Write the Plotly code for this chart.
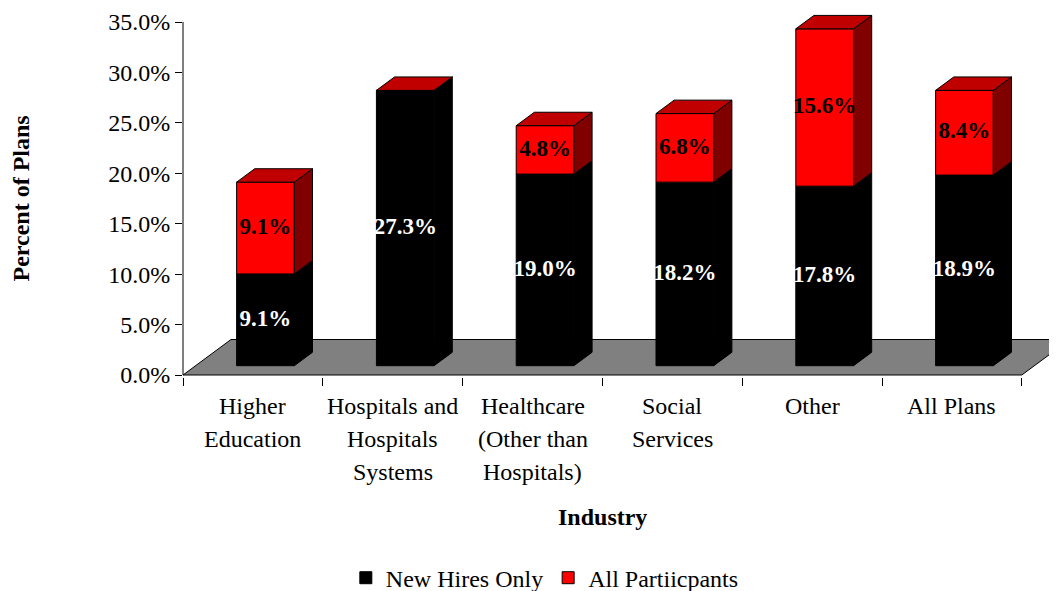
import plotly.graph_objects as go

# ---------------- data ----------------
categories = [
    "Higher<br>Education",
    "Hospitals and<br>Hospitals<br>Systems",
    "Healthcare<br>(Other than<br>Hospitals)",
    "Social<br>Services",
    "Other",
    "All Plans",
]
new_hires = [9.1, 27.3, 19.0, 18.2, 17.8, 18.9]
all_participants = [9.1, 0.0, 4.8, 6.8, 15.6, 8.4]
series_names = ["New Hires Only", "All Partiicpants"]
y_ticks = [0, 5, 10, 15, 20, 25, 30, 35]
y_tick_labels = [f"{v:.1f}%" for v in y_ticks]

# ---------------- styling / geometry ----------------
FONT = "Liberation Serif"
PAGE_OFFSET = 8                      # default body margin of the html page
W, H = 1057 - PAGE_OFFSET, 591 - PAGE_OFFSET
ML, MR, MT, MB = 175, 0, 0, 214
X_MIN = -0.5
PX_X = 139.8
X_MAX = X_MIN + (W - ML - MR) / PX_X
Y_MIN, Y_MAX = -0.198, 36.388
PX_Y = (H - MT - MB) / (Y_MAX - Y_MIN)
DEPTH_X = 48 / PX_X        # full floor depth, in x data units
DEPTH_Y = 35.5 / PX_Y      # full floor depth, in y data units
F0, F1 = 0.262, 0.64       # bar front / back depth fraction
BAR_W = 0.413

front_colors = ["#000000", "#FF0000"]
top_colors = ["#000000", "#C00000"]
side_colors = ["#000000", "#800000"]
text_colors = ["#FFFFFF", "#000000"]

series = [new_hires, all_participants]
n = len(categories)
xs = list(range(n))

fig = go.Figure()

# front faces (real bars)
bases = [[F0 * DEPTH_Y] * n]
bases.append([F0 * DEPTH_Y + v for v in new_hires])
x_front = [i + F0 * DEPTH_X for i in xs]
for s, vals in enumerate(series):
    fig.add_trace(go.Bar(
        x=x_front, y=vals, base=bases[s], width=BAR_W,
        name=series_names[s],
        marker=dict(color=front_colors[s], line=dict(color="#000000", width=1)),
        textposition="none", hoverinfo="skip",
    ))

ddx = (F1 - F0) * DEPTH_X
ddy = (F1 - F0) * DEPTH_Y

# side faces
for s, vals in enumerate(series):
    px, py = [], []
    for i in xs:
        xr = x_front[i] + BAR_W / 2
        yb = bases[s][i]
        yt = yb + vals[i]
        px += [xr, xr + ddx, xr + ddx, xr, xr, None]
        py += [yb, yb + ddy, yt + ddy, yt, yb, None]
    fig.add_trace(go.Scatter(
        x=px, y=py, mode="lines", fill="toself", fillcolor=side_colors[s],
        line=dict(color="#000000", width=1), showlegend=False, hoverinfo="skip"))

# top faces of the topmost segment
s = len(series) - 1
px, py = [], []
for i in xs:
    xl = x_front[i] - BAR_W / 2
    xr = x_front[i] + BAR_W / 2
    yt = bases[s][i] + series[s][i]
    px += [xl, xr, xr + ddx, xl + ddx, xl, None]
    py += [yt, yt, yt + ddy, yt + ddy, yt, None]
fig.add_trace(go.Scatter(
    x=px, y=py, mode="lines", fill="toself", fillcolor=top_colors[s],
    line=dict(color="#000000", width=1), showlegend=False, hoverinfo="skip"))

# data labels
for s, vals in enumerate(series):
    lx, ly, lt = [], [], []
    for i in xs:
        if vals[i] > 0:
            lx.append(x_front[i])
            ly.append(bases[s][i] + vals[i] / 2)
            lt.append(f"<b>{vals[i]:.1f}%</b>")
    fig.add_trace(go.Scatter(
        x=lx, y=ly, text=lt, mode="text",
        textfont=dict(family=FONT, size=23, color=text_colors[s]),
        showlegend=False, hoverinfo="skip"))

# floor (below everything)
floor_path = (f"M {X_MIN},0 L {X_MIN + n},0 L {X_MIN + n + DEPTH_X},{DEPTH_Y} "
              f"L {X_MIN + DEPTH_X},{DEPTH_Y} Z")
shapes = [
    dict(type="path", path=floor_path, xref="x", yref="y", layer="below",
         fillcolor="#808080", line=dict(color="#000000", width=1)),
    dict(type="line", xref="paper", yref="y", x0=0, x1=0, y0=0, y1=y_ticks[-1],
         line=dict(color="#000000", width=1)),
]

annotations = []
LINE_GAP = 33
for i, cat in enumerate(categories):
    for k, line in enumerate(cat.split("<br>")):
        annotations.append(dict(
            x=i, xref="x", y=0, yref="paper", yanchor="top", xanchor="center",
            yshift=-14 - k * LINE_GAP, showarrow=False, text=line,
            font=dict(family=FONT, size=24, color="#000000")))
annotations.append(dict(
    x=(X_MIN + X_MIN + n) / 2, xref="x", y=0, yref="paper", yanchor="middle",
    yshift=-140, showarrow=False, text="<b>Industry</b>",
    font=dict(family=FONT, size=24, color="#000000")))
annotations.append(dict(
    x=0, xref="paper", xshift=-163, y=y_ticks[-1] / 2, yref="y",
    xanchor="center", yanchor="middle", textangle=-90, showarrow=False,
    text="<b>Percent of Plans</b>",
    font=dict(family=FONT, size=24, color="#000000")))

fig.update_layout(
    width=W, height=H,
    margin=dict(l=ML, r=MR, t=MT, b=MB, autoexpand=False),
    paper_bgcolor="white", plot_bgcolor="white",
    barmode="overlay",
    showlegend=True,
    legend=dict(orientation="h", x=0.414, y=-0.545, xanchor="center", yanchor="middle",
                font=dict(family=FONT, size=24, color="#000000"),
                bgcolor="rgba(0,0,0,0)"),
    xaxis=dict(range=[X_MIN, X_MAX], tickvals=[X_MIN + k for k in range(n + 1)],
               ticktext=[""] * (n + 1), ticks="outside", ticklen=8, tickcolor="#000000",
               showgrid=False, zeroline=False, showline=False, fixedrange=True,
               automargin=False),
    yaxis=dict(range=[Y_MIN, Y_MAX], tickvals=y_ticks, ticktext=y_tick_labels,
               ticks="outside", ticklen=7, tickcolor="#000000",
               tickfont=dict(family=FONT, size=24, color="#000000"),
               showgrid=False, zeroline=False, showline=False, fixedrange=True,
               automargin=False),
    shapes=shapes,
    annotations=annotations,
)

fig.write_html("out.html")
